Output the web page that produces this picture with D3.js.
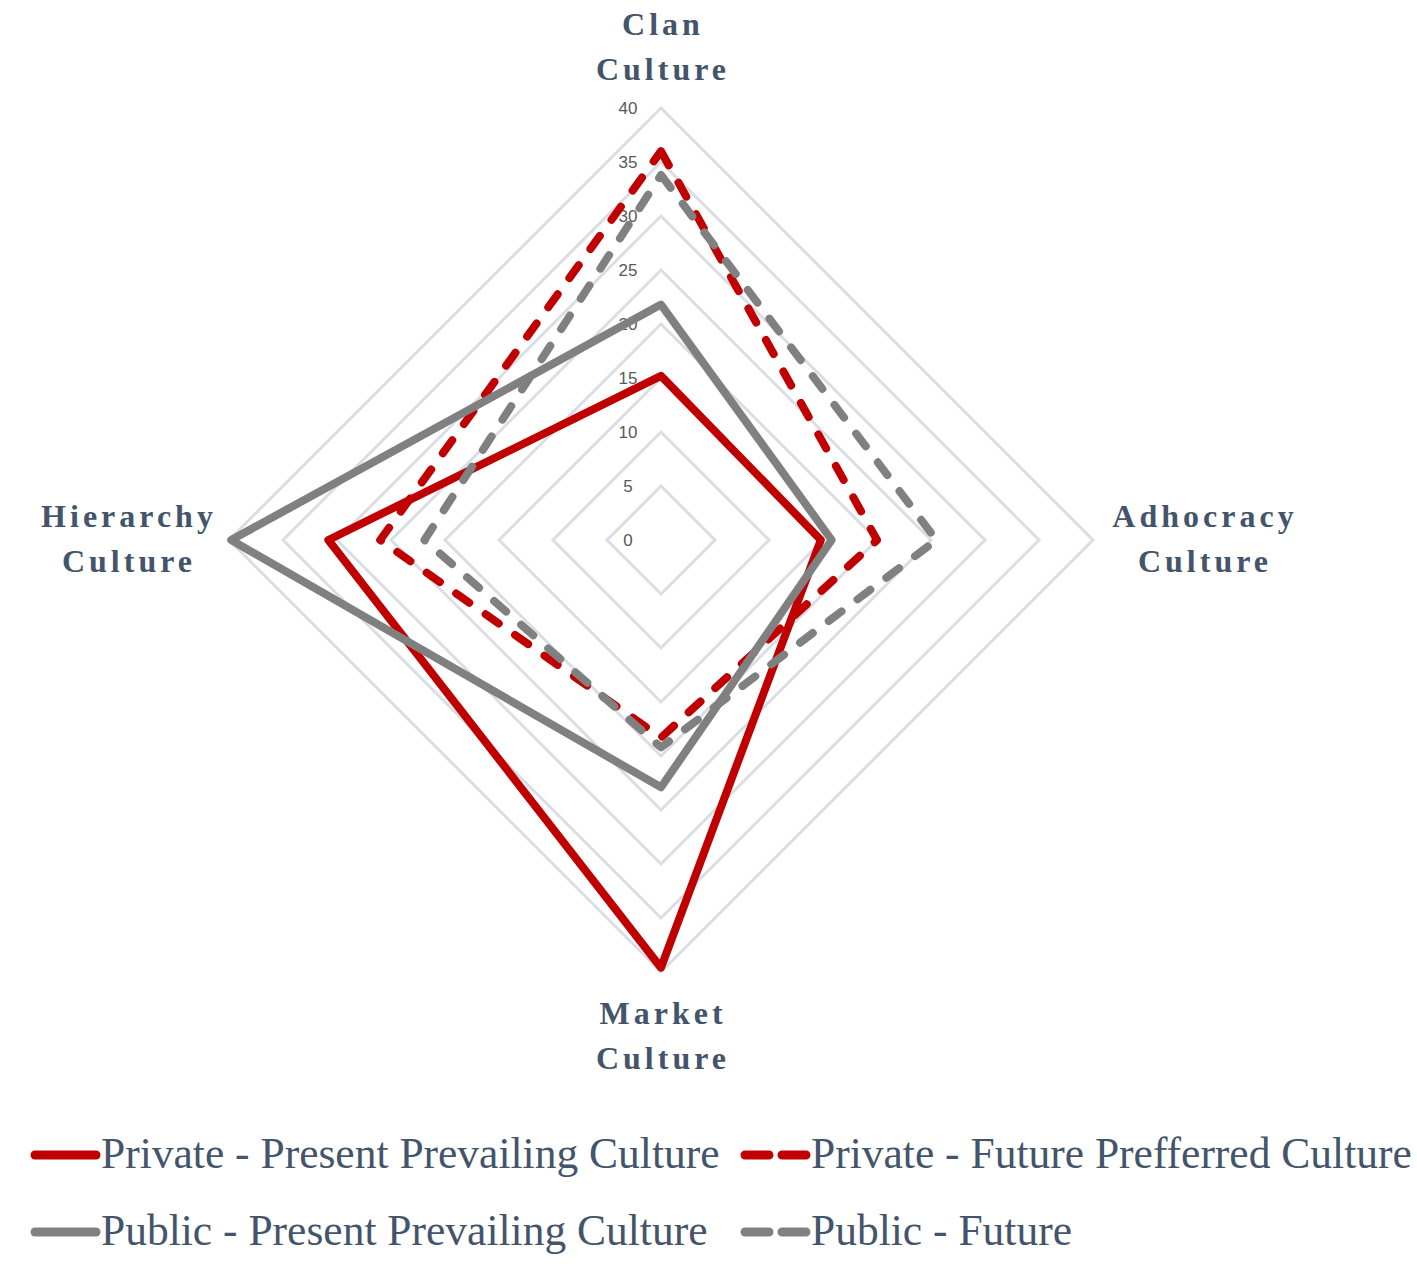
<!DOCTYPE html>
<html><head><meta charset="utf-8">
<script src="https://cdn.jsdelivr.net/npm/d3@7"></script>
<style>body{margin:0;background:#fff}svg{display:block}</style>
</head><body>
<script>
const axes = ["Clan\nCulture", "Adhocracy\nCulture", "Market\nCulture", "Hierarchy\nCulture"];
const ticks = [0, 5, 10, 15, 20, 25, 30, 35, 40];
const seriesNames = ["Private - Present Prevailing Culture", "Private - Future Prefferred Culture", "Public - Present Prevailing Culture", "Public - Future"];
const privatePresent = [15.2, 14.8, 39.6, 30.8];
const privateFuture  = [36.0, 20.0, 18.3, 26.0];
const publicPresent  = [21.8, 15.8, 22.9, 39.8];
const publicFuture   = [33.8, 25.5, 19.2, 21.9];
const seriesValues = [privatePresent, privateFuture, publicPresent, publicFuture];
const seriesColors = ["#c00000", "#c00000", "#808080", "#808080"];
const seriesDashed = [false, true, false, true];

const W = 1417, H = 1264, cx = 661, cy = 540;
const svg = d3.select("body").append("svg").attr("width", W).attr("height", H);
const r = d3.scaleLinear().domain([0, 40]).range([0, 432]);
const ang = i => -Math.PI / 2 + i * 2 * Math.PI / axes.length;
const pt = (v, i) => [cx + r(v) * Math.cos(ang(i)), cy + r(v) * Math.sin(ang(i))];
const line = d3.line().curve(d3.curveLinearClosed);

const g = svg.append("g");
g.selectAll("path.grid").data(ticks.filter(t => t > 0)).join("path")
  .attr("d", t => line(axes.map((a, i) => pt(t, i))))
  .attr("fill", "none").attr("stroke", "#dadee4").attr("stroke-width", 3);
g.selectAll("text.tick").data(ticks).join("text")
  .attr("x", cx - 33).attr("y", t => cy - r(t) + 6)
  .attr("text-anchor", "middle")
  .attr("font-family", "Arial, 'Liberation Sans', sans-serif").attr("font-size", 17)
  .attr("fill", "#595959").text(t => t);

seriesValues.forEach((vals, s) => {
  g.append("path")
    .attr("d", line(vals.map((v, i) => pt(v, i))))
    .attr("fill", "none").attr("stroke", seriesColors[s]).attr("stroke-width", 8)
    .attr("stroke-linejoin", "round")
    .attr("stroke-linecap", seriesDashed[s] ? "round" : "butt")
    .attr("stroke-dasharray", seriesDashed[s] ? "16 20" : null);
});

const labelPos = [[663, 35], [1205, 527], [663, 1024], [129, 527]];
axes.forEach((a, i) => {
  const t = svg.append("text").attr("text-anchor", "middle")
    .attr("font-family", "'Liberation Serif', 'Times New Roman', serif")
    .attr("font-weight", "bold").attr("font-size", 32).attr("letter-spacing", 4)
    .attr("fill", "#44546a");
  a.split("\n").forEach((ln, k) => {
    t.append("tspan").attr("x", labelPos[i][0]).attr("y", labelPos[i][1] + k * 45).text(ln);
  });
});

const legPos = [[30, 1155], [740, 1155], [30, 1232], [740, 1232]];
seriesNames.forEach((n, s) => {
  const [x, y] = legPos[s];
  svg.append("line").attr("x1", x + 5).attr("x2", x + 66).attr("y1", y).attr("y2", y)
    .attr("stroke", seriesColors[s]).attr("stroke-width", 9)
    .attr("stroke-linecap", "round")
    .attr("stroke-dasharray", seriesDashed[s] ? "24 13" : null);
  svg.append("text").attr("x", x + 71).attr("y", y + 13)
    .attr("font-family", "'Liberation Serif', 'Times New Roman', serif")
    .attr("font-size", 43.5).attr("fill", "#44546a").text(n);
});
</script>
</body></html>
